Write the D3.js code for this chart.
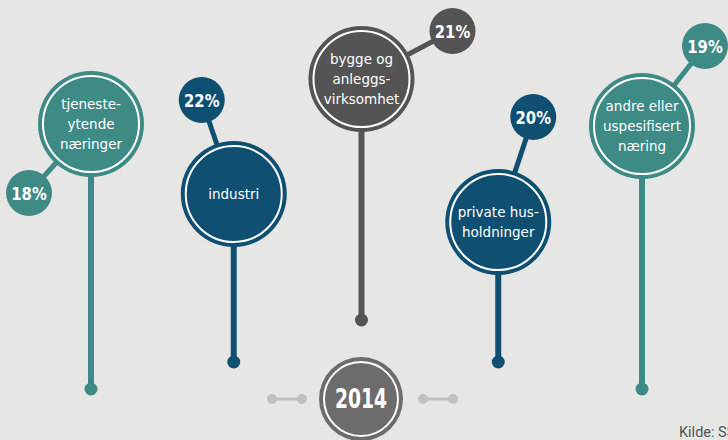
<!DOCTYPE html>
<html>
<head>
<meta charset="utf-8">
<script src="https://cdn.jsdelivr.net/npm/d3@7"></script>
<style>
  body { margin: 0; background: #e6e6e4; }
  svg { display: block; }
  .cond { font-family: 'DejaVu Sans', sans-serif; font-weight: bold; }
</style>
</head>
<body>
<svg id="chart" width="728" height="440"></svg>
<script>
// data
const categories = ["tjenesteytende næringer", "industri", "bygge og anleggsvirksomhet", "private husholdninger", "andre eller uspesifisert næring"];
const labelLines = [
  ["tjeneste-", "ytende", "næringer"],
  ["industri"],
  ["bygge og", "anleggs-", "virksomhet"],
  ["private hus-", "holdninger"],
  ["andre eller", "uspesifisert", "næring"]
];
const shares = [18, 22, 21, 20, 19];
const year = "2014";
const source = "Kilde: SSB";

// layout (decorative placement of each bubble)
const layout = [
  { dx: 0,  cy: 124, end: 389, bx: -62, by: 69,  color: "#3e8a85" },
  { dx: 5,  cy: 194, end: 362, bx: -32, by: -94, color: "#0f4f72" },
  { dx: -5, cy: 79,  end: 320, bx: 91,  by: -48, color: "#545454" },
  { dx: -6, cy: 222, end: 362, bx: 35,  by: -105, color: "#0f4f72" },
  { dx: 0,  cy: 126, end: 389, bx: 63,  by: -80, color: "#3e8a85" }
];
const R = 53, r = 23;

const svg = d3.select("#chart");
const x = d3.scalePoint().domain(categories).range([91, 642]);

const g = svg.selectAll("g.item")
  .data(categories)
  .enter()
  .append("g")
  .attr("class", "item")
  .attr("transform", (d, i) => `translate(${x(d) + layout[i].dx},0)`);

// stem
g.append("line")
  .attr("x1", 0).attr("x2", 0)
  .attr("y1", (d, i) => layout[i].cy)
  .attr("y2", (d, i) => layout[i].end)
  .attr("stroke", (d, i) => layout[i].color)
  .attr("stroke-width", 6);

g.append("circle")
  .attr("cx", 0)
  .attr("cy", (d, i) => layout[i].end)
  .attr("r", 6.5)
  .attr("fill", (d, i) => layout[i].color);

// connector to badge
g.append("line")
  .attr("x1", 0)
  .attr("y1", (d, i) => layout[i].cy)
  .attr("x2", (d, i) => layout[i].bx)
  .attr("y2", (d, i) => layout[i].cy + layout[i].by)
  .attr("stroke", (d, i) => layout[i].color)
  .attr("stroke-width", 5);

// badge
g.append("circle")
  .attr("cx", (d, i) => layout[i].bx)
  .attr("cy", (d, i) => layout[i].cy + layout[i].by)
  .attr("r", r)
  .attr("fill", (d, i) => layout[i].color);

// condensed bold label: squeeze horizontally
g.append("text")
  .attr("class", "cond")
  .attr("transform", (d, i) => `translate(${layout[i].bx},${layout[i].cy + layout[i].by}) scale(0.8,1)`)
  .attr("dy", "0.36em")
  .attr("text-anchor", "middle")
  .attr("fill", "#fff")
  .style("font-size", "18.5px")
  .text((d, i) => shares[i] + "%");

// big circle
g.append("circle")
  .attr("cx", 0)
  .attr("cy", (d, i) => layout[i].cy)
  .attr("r", R)
  .attr("fill", (d, i) => layout[i].color);

g.append("circle")
  .attr("cx", 0)
  .attr("cy", (d, i) => layout[i].cy)
  .attr("r", R - 5)
  .attr("fill", "none")
  .attr("stroke", "#fff")
  .attr("stroke-width", 2);

g.append("text")
  .attr("text-anchor", "middle")
  .attr("fill", "#fff")
  .style("font-family", "'DejaVu Sans', sans-serif")
  .style("font-size", "13.5px")
  .each(function (d, i) {
    const lines = labelLines[i];
    const lh = 20;
    const y0 = layout[i].cy - (lines.length - 1) * lh / 2;
    d3.select(this).selectAll("tspan")
      .data(lines)
      .enter()
      .append("tspan")
      .attr("x", 0)
      .attr("y", (l, j) => y0 + j * lh)
      .attr("dy", "0.36em")
      .text(l => l);
  });

// year marker
const cx = 361, cy = 399;
[[272, 302], [423, 453]].forEach(([a, b]) => {
  svg.append("line")
    .attr("x1", a).attr("x2", b).attr("y1", cy).attr("y2", cy)
    .attr("stroke", "#c3bfbc").attr("stroke-width", 3);
  [a, b].forEach(p => svg.append("circle").attr("cx", p).attr("cy", cy).attr("r", 5).attr("fill", "#c3bfbc"));
});

svg.append("circle").attr("cx", cx).attr("cy", cy).attr("r", 42).attr("fill", "#6c6c6c");
svg.append("circle").attr("cx", cx).attr("cy", cy).attr("r", 37)
  .attr("fill", "none").attr("stroke", "#fff").attr("stroke-width", 2);
svg.append("text")
  .attr("class", "cond")
  .attr("transform", `translate(${cx},${cy}) scale(0.72,1)`)
  .attr("dy", "0.36em")
  .attr("text-anchor", "middle")
  .attr("fill", "#fff")
  .style("font-size", "26px")
  .text(year);

svg.append("text")
  .attr("x", 679).attr("y", 437)
  .attr("fill", "#555")
  .style("font-family", "'Roboto', sans-serif")
  .style("font-size", "14.5px")
  .text(source);
</script>
</body>
</html>
